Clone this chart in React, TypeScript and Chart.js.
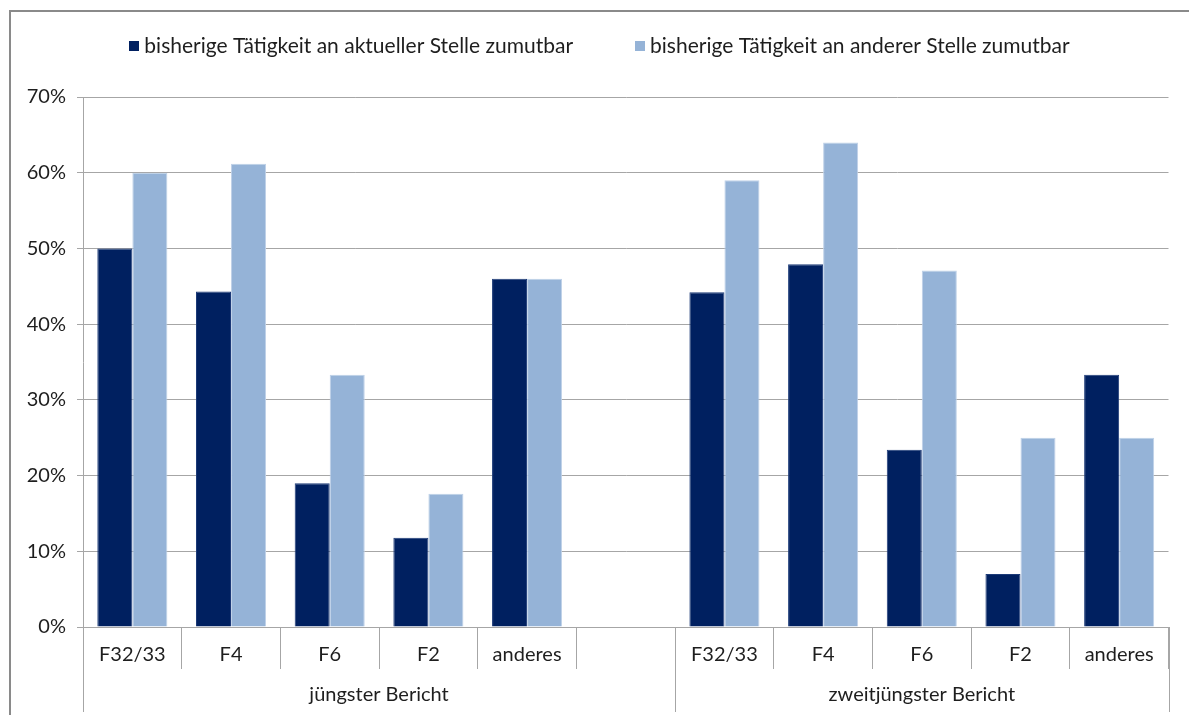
import React, { useEffect, useRef } from "react";
import { Chart, registerables } from "chart.js";

Chart.register(...registerables);

const categories = ["F32/33", "F4", "F6", "F2", "anderes", "", "F32/33", "F4", "F6", "F2", "anderes"];
const groupLabels = ["jüngster Bericht", "zweitjüngster Bericht"];
const groupSizes = [6, 5];
const seriesNames = [
  "bisherige Tätigkeit an aktueller Stelle zumutbar",
  "bisherige Tätigkeit an anderer Stelle zumutbar",
];
const aktuelleStelle = [50.0, 44.3, 19.0, 11.8, 46.0, null, 44.2, 47.9, 23.4, 7.0, 33.3];
const andereStelle = [60.0, 61.2, 33.3, 17.6, 46.0, null, 59.0, 64.0, 47.1, 25.0, 25.0];
const yTicks = [0, 10, 20, 30, 40, 50, 60, 70];

const FONT = "Lato, 'Open Sans', sans-serif";
const TEXT = "#1e1e1e";
const GRID = "#a6a6a6";
const DARK = "#002060";
const LIGHT = "#95b3d7";

const framePlugin = {
  id: "frame",
  beforeDraw(chart: any) {
    const ctx = chart.ctx;
    ctx.save();
    ctx.fillStyle = "#ffffff";
    ctx.fillRect(0, 0, chart.width, chart.height);
    ctx.strokeStyle = "#8a8a8a";
    ctx.lineWidth = 2;
    ctx.beginPath();
    ctx.moveTo(10, chart.height);
    ctx.lineTo(10, 11);
    ctx.lineTo(chart.width, 11);
    ctx.stroke();
    ctx.restore();
  },
  afterDraw(chart: any) {
    const ctx = chart.ctx;
    const x = chart.scales.x;
    const n = categories.length;
    const cw = (x.right - x.left) / n;
    const base = chart.chartArea.bottom;
    ctx.save();
    ctx.strokeStyle = GRID;
    ctx.lineWidth = 1;
    let idx = 0;
    const bounds = [0];
    groupSizes.forEach((s) => {
      idx += s;
      bounds.push(idx);
    });
    bounds.forEach((b) => {
      const px = Math.round(x.left + b * cw) + 0.5;
      ctx.beginPath();
      ctx.moveTo(px, base);
      ctx.lineTo(px, 712);
      ctx.stroke();
    });
    ctx.fillStyle = TEXT;
    ctx.font = `20px ${FONT}`;
    ctx.textAlign = "center";
    ctx.textBaseline = "middle";
    groupLabels.forEach((g, i) => {
      const l = x.left + bounds[i] * cw;
      const r = x.left + bounds[i + 1] * cw;
      ctx.fillText(g, (l + r) / 2, 695);
    });
    // legend
    ctx.font = `21px ${FONT}`;
    const colors = chart.data.datasets.map((d: any) => d.backgroundColor);
    const box = 10;
    const gap = 5;
    const itemGap = 62;
    const widths = seriesNames.map((t) => box + gap + ctx.measureText(t).width);
    const total = widths.reduce((a, b) => a + b, 0) + itemGap * (widths.length - 1);
    let lx = 599.5 - total / 2;
    const ly = 46;
    ctx.textAlign = "left";
    seriesNames.forEach((t, i) => {
      ctx.fillStyle = colors[i];
      ctx.fillRect(Math.round(lx), ly - box / 2, box, box);
      ctx.fillStyle = TEXT;
      ctx.fillText(t, lx + box + gap, ly);
      lx += widths[i] + itemGap;
    });
    ctx.restore();
  },
};

export default function App() {
  const ref = useRef<HTMLCanvasElement>(null);
  useEffect(() => {
    if (!ref.current) return;
    const chart = new Chart(ref.current, {
      type: "bar",
      data: {
        labels: categories,
        datasets: [
          {
            label: seriesNames[0],
            data: aktuelleStelle as any,
            backgroundColor: DARK,
            borderColor: "#1d3b78",
            borderWidth: 1,
            categoryPercentage: 0.71,
            barPercentage: 1,
          },
          {
            label: seriesNames[1],
            data: andereStelle as any,
            backgroundColor: LIGHT,
            borderColor: "#bfd1e8",
            borderWidth: 1,
            categoryPercentage: 0.71,
            barPercentage: 1,
          },
        ],
      },
      options: {
        animation: false,
        responsive: false,
        maintainAspectRatio: false,
        layout: { padding: { top: 97, left: 0, right: 20.5, bottom: 0 } },
        plugins: { legend: { display: false }, tooltip: { enabled: false } },
        scales: {
          x: {
            offset: true,
            grid: {
              offset: true,
              drawOnChartArea: false,
              drawTicks: true,
              tickLength: 42,
              color: GRID,
              lineWidth: 1,
            },
            border: { color: GRID, width: 1 },
            ticks: {
              font: { family: FONT, size: 20 },
              color: TEXT,
              padding: -26,
              maxRotation: 0,
              autoSkip: false,
            },
            afterFit(scale: any) {
              scale.height = 88;
            },
          },
          y: {
            min: 0,
            max: 70,
            afterBuildTicks(scale: any) {
              scale.ticks = yTicks.map((v) => ({ value: v }));
            },
            grid: { color: GRID, lineWidth: 1, tickLength: 6 },
            border: { color: GRID, width: 1 },
            ticks: {
              font: { family: FONT, size: 20 },
              color: TEXT,
              padding: 11,
              callback: (v: any) => `${v}%`,
            },
            afterFit(scale: any) {
              scale.width = 83;
            },
          },
        },
      },
      plugins: [framePlugin],
    });
    return () => chart.destroy();
  }, []);
  return (
    <div style={{ position: "fixed", left: 0, top: 0, width: 1189, height: 715 }}>
      <canvas ref={ref} width={1189} height={715} />
    </div>
  );
}
